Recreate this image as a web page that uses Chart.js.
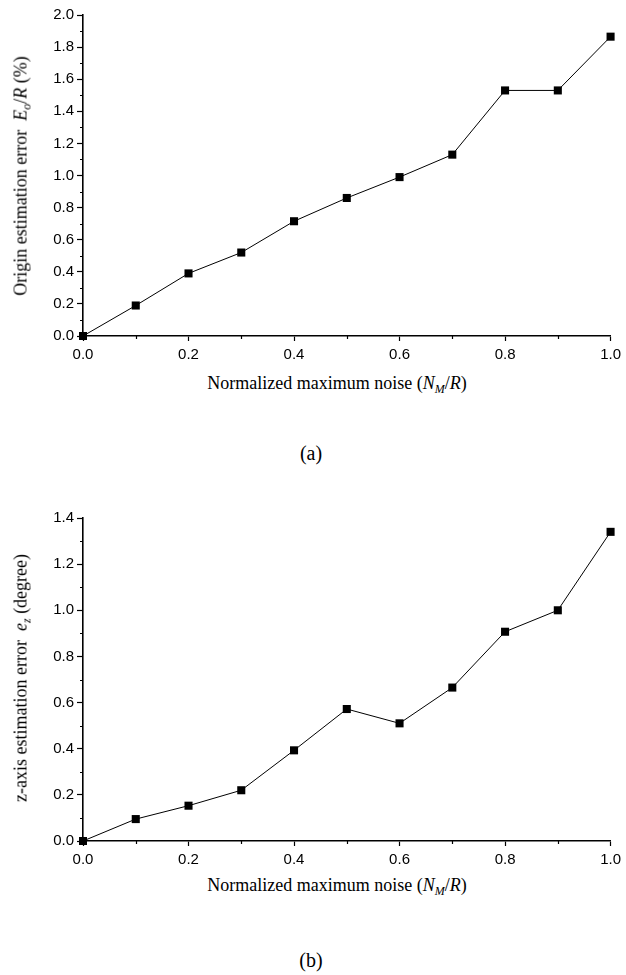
<!DOCTYPE html>
<html>
<head>
<meta charset="utf-8">
<script src="https://cdn.jsdelivr.net/npm/chart.js@4"></script>
<style>
    body { margin:0; background:#fff; }
    #page { position:relative; width:626px; height:975px; background:#fff; }
    .panel { position:absolute; left:0; }
    .serif { position:absolute; font-family:"Liberation Serif","Times New Roman",serif; font-size:18px; color:#000; white-space:nowrap; }
    .xtitle { transform:translate(-50%,-50%); }
    .ytitle { transform:translate(-50%,-50%) rotate(-90deg); }
    .caption { font-size:20px; }
    .serif sub { font-size:12px; vertical-align:-4px; line-height:0; }
</style>
</head>
<body>
<div id="page">
    <canvas id="chartA" class="panel" style="top:0px" width="626" height="366"></canvas>
    <div class="serif ytitle" style="left:21px; top:176px">Origin estimation error&nbsp; <i>E<sub>o</sub></i>/<i>R</i> (%)</div>
    <div class="serif xtitle" style="left:337px; top:383px">Normalized maximum noise (<i>N<sub>M</sub></i>/<i>R</i>)</div>
    <div class="serif xtitle caption" style="left:311px; top:453px">(a)</div>

    <canvas id="chartB" class="panel" style="top:500px" width="626" height="371"></canvas>
    <div class="serif ytitle" style="left:21px; top:678px">z-axis estimation error&nbsp; <i>e<sub>z</sub></i> (degree)</div>
    <div class="serif xtitle" style="left:337px; top:885px">Normalized maximum noise (<i>N<sub>M</sub></i>/<i>R</i>)</div>
    <div class="serif xtitle caption" style="left:311px; top:960px">(b)</div>
</div>

<script>
// ------------------ DATA ------------------
const noiseLevels = [0.0, 0.1, 0.2, 0.3, 0.4, 0.5, 0.6, 0.7, 0.8, 0.9, 1.0];
const originError = [0.0, 0.19, 0.39, 0.52, 0.715, 0.86, 0.99, 1.13, 1.53, 1.53, 1.865];
const zAxisError  = [0.0, 0.095, 0.153, 0.22, 0.393, 0.572, 0.51, 0.665, 0.907, 1.0, 1.34];

const xTicksMax = 1.0;
const yMaxA = 2.0;
const yMaxB = 1.4;

// ------------------ MINOR TICKS ------------------
const minorTicks = {
    id: "minorTicks",
    afterDraw(chart){
        const ctx = chart.ctx;
        const xs = chart.scales.x, ys = chart.scales.y;
        ctx.save();
        ctx.strokeStyle = "#000";
        ctx.lineWidth = 1.2;
        ctx.beginPath();
        for(let v = 0.1; v < xs.max; v += 0.2){
            const px = Math.round(xs.getPixelForValue(v)) + 0.5;
            ctx.moveTo(px, xs.top);
            ctx.lineTo(px, xs.top + 3);
        }
        for(let v = 0.1; v < ys.max; v += 0.2){
            const py = Math.round(ys.getPixelForValue(v)) + 0.5;
            ctx.moveTo(ys.right, py);
            ctx.lineTo(ys.right - 3, py);
        }
        ctx.stroke();
        ctx.restore();
    }
};

// ------------------ BUILD CHART ------------------
function makeChart(id, values, yMax, padTop){
    const points = noiseLevels.map((x,i)=>({x:x, y:values[i]}));
    const tickFont = {family:"Liberation Sans", size:15};
    return new Chart(document.getElementById(id), {
        type:"scatter",
        data:{
            datasets:[{
                data:points,
                showLine:true,
                borderColor:"#000",
                borderWidth:1,
                pointStyle:"rect",
                pointRadius:5.7,
                pointBackgroundColor:"#000",
                pointBorderColor:"#000",
                pointBorderWidth:0,
                clip:false
            }]
        },
        options:{
            responsive:false,
            animation:false,
            layout:{padding:{left:0, right:10, top:padTop, bottom:0}},
            plugins:{legend:{display:false}, tooltip:{enabled:false}},
            scales:{
                x:{
                    type:"linear", min:0, max:xTicksMax,
                    ticks:{stepSize:0.2, color:"#000", font:tickFont, padding:5,
                        callback:v=>v.toFixed(1)},
                    grid:{drawOnChartArea:false, drawTicks:true, tickLength:5, tickColor:"#000", tickWidth:1.2},
                    border:{color:"#000", width:1.6},
                    afterFit(scale){ scale.height = 30; }
                },
                y:{
                    type:"linear", min:0, max:yMax,
                    ticks:{stepSize:0.2, color:"#000", font:tickFont, padding:3,
                        callback:v=>v.toFixed(1)},
                    grid:{drawOnChartArea:false, drawTicks:true, tickLength:6, tickColor:"#000", tickWidth:1.2},
                    border:{color:"#000", width:1.6},
                    afterFit(scale){ scale.width = 83; }
                }
            }
        },
        plugins:[minorTicks]
    });
}

makeChart("chartA", originError, yMaxA, 15);
makeChart("chartB", zAxisError, yMaxB, 18);
</script>
</body>
</html>
